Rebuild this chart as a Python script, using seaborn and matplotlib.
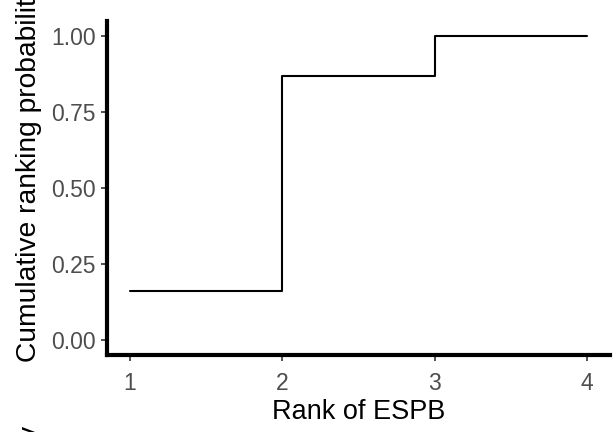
import pandas as pd
import numpy as np
import matplotlib
matplotlib.use("Agg")
import matplotlib.pyplot as plt
import seaborn as sns

# dane
ranks = [1, 2, 3, 4]
cum_prob = [0.16, 0.87, 1.00, 1.00]
y_ticks = [0.00, 0.25, 0.50, 0.75, 1.00]
y_tick_labels = ["0.00", "0.25", "0.50", "0.75", "1.00"]

df = pd.DataFrame({"rank": ranks, "prob": cum_prob})

sns.set_theme(style="ticks")
plt.rcParams["font.family"] = ["Liberation Sans", "DejaVu Sans"]

fig = plt.figure(figsize=(6.13, 4.32), dpi=100)
ax = fig.add_axes([0.1746, 0.178, 0.8204, 0.773])

sns.lineplot(data=df, x="rank", y="prob", drawstyle="steps-post",
             color="black", linewidth=1.5, ax=ax)

ax.set_xlim(0.85, 4.15)
ax.set_ylim(-0.05, 1.05)
ax.set_xticks(ranks)
ax.set_xticklabels([str(r) for r in ranks])
ax.set_yticks(y_ticks)
ax.set_yticklabels(y_tick_labels)

ax.tick_params(axis="both", colors="#333333", labelcolor="#4D4D4D",
               labelsize=16.5, length=4, width=1.2)
ax.tick_params(axis="x", pad=8)
ax.tick_params(axis="y", pad=4)

for s in ["top", "right"]:
    ax.spines[s].set_visible(False)
for s in ["left", "bottom"]:
    ax.spines[s].set_linewidth(3)
    ax.spines[s].set_color("black")

ax.set_xlabel("Rank of ESPB", fontsize=19.5, color="black", labelpad=3)
ax.set_ylabel("")

# etykieta osi y - przycięta na górze, ogon "y" na dole
fig.text(29 / 613, 1 - 362 / 432, "Cumulative ranking probability",
         rotation=90, fontsize=20.3, color="black", ha="center", va="bottom")
fig.text(18 / 613, 1 - 426 / 432, "y", rotation=90, fontsize=20.3, color="black",
         ha="left", va="top")

fig.savefig("out.png", dpi=100)
